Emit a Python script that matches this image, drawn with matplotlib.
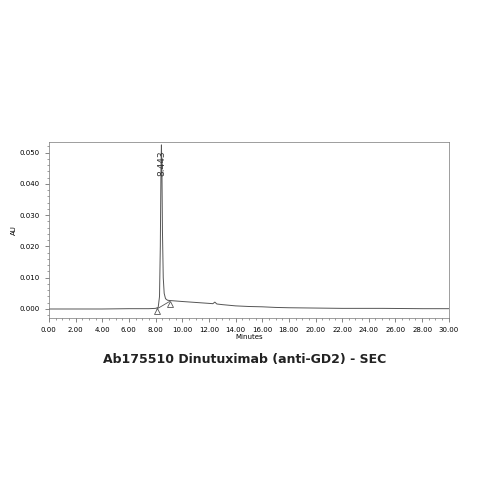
import matplotlib.pyplot as plt
from matplotlib.ticker import MultipleLocator

# chromatogram trace
t = [0.0, 2.0, 4.0, 6.0, 7.5, 8.0, 8.2, 8.3, 8.36, 8.41, 8.443, 8.48, 8.52, 8.58, 8.65, 8.75, 8.9,
     9.1, 10.0, 11.0, 12.0, 12.3, 12.45, 12.6, 13.0, 14.0, 15.0, 16.0, 17.0, 18.0, 20.0, 22.0, 25.0, 28.0, 30.0]
au = [0.0, 0.0, 0.0, 0.0001, 0.0001, 0.0002, 0.0005, 0.004, 0.02, 0.045, 0.0525, 0.045, 0.025, 0.01,
      0.005, 0.0033, 0.0028, 0.0027, 0.0024, 0.0021, 0.0018, 0.0017, 0.0022, 0.0016, 0.0014, 0.001,
      0.0008, 0.0007, 0.0005, 0.0004, 0.0003, 0.0002, 0.0002, 0.0001, 0.0001]
base_t = [8.1, 9.05]
base_au = [0.0, 0.0024]
peak_t = 8.443
peak_au = 0.0525

fig = plt.figure(figsize=(4.79, 4.79), dpi=100)
ax = fig.add_axes([0.102, 0.336, 0.835, 0.368])
ax.plot(t, au, color='#555555', lw=0.7)
ax.plot(base_t, base_au, color='#555555', lw=0.6)
ax.plot(base_t, [base_au[0] - 0.0007, base_au[1] - 0.0007], '^', ms=5, mfc='white', mec='#555555', mew=0.6)
ax.text(peak_t, 0.0425, '8.443', rotation=90, fontsize=6.5, ha='center', va='bottom',
        color='#333333')

ax.set_xlim(0, 30)
ax.set_ylim(-0.0029, 0.0535)
ax.set_xticks([i * 2 for i in range(16)])
ax.set_xticklabels(['%.2f' % (i * 2) for i in range(16)])
ax.xaxis.set_minor_locator(MultipleLocator(0.5))
ax.set_yticks([0, 0.01, 0.02, 0.03, 0.04, 0.05])
ax.set_yticklabels(['0.000', '0.010', '0.020', '0.030', '0.040', '0.050'])
ax.yaxis.set_minor_locator(MultipleLocator(0.002))
ax.tick_params(labelsize=5, length=3, width=0.5, color='#555555')
ax.tick_params(which='minor', length=1.5, width=0.4, color='#555555')
for s in ax.spines.values():
    s.set_linewidth(0.5)
    s.set_color('#777777')
ax.set_xlabel('Minutes', fontsize=5, labelpad=1)
ax.set_ylabel('AU', fontsize=5, labelpad=2)

fig.text(0.51, 0.25, 'Ab175510 Dinutuximab (anti-GD2) - SEC', ha='center', va='center',
         fontsize=9, fontweight='bold', color='#222222')

fig.savefig('out.png', dpi=100)
